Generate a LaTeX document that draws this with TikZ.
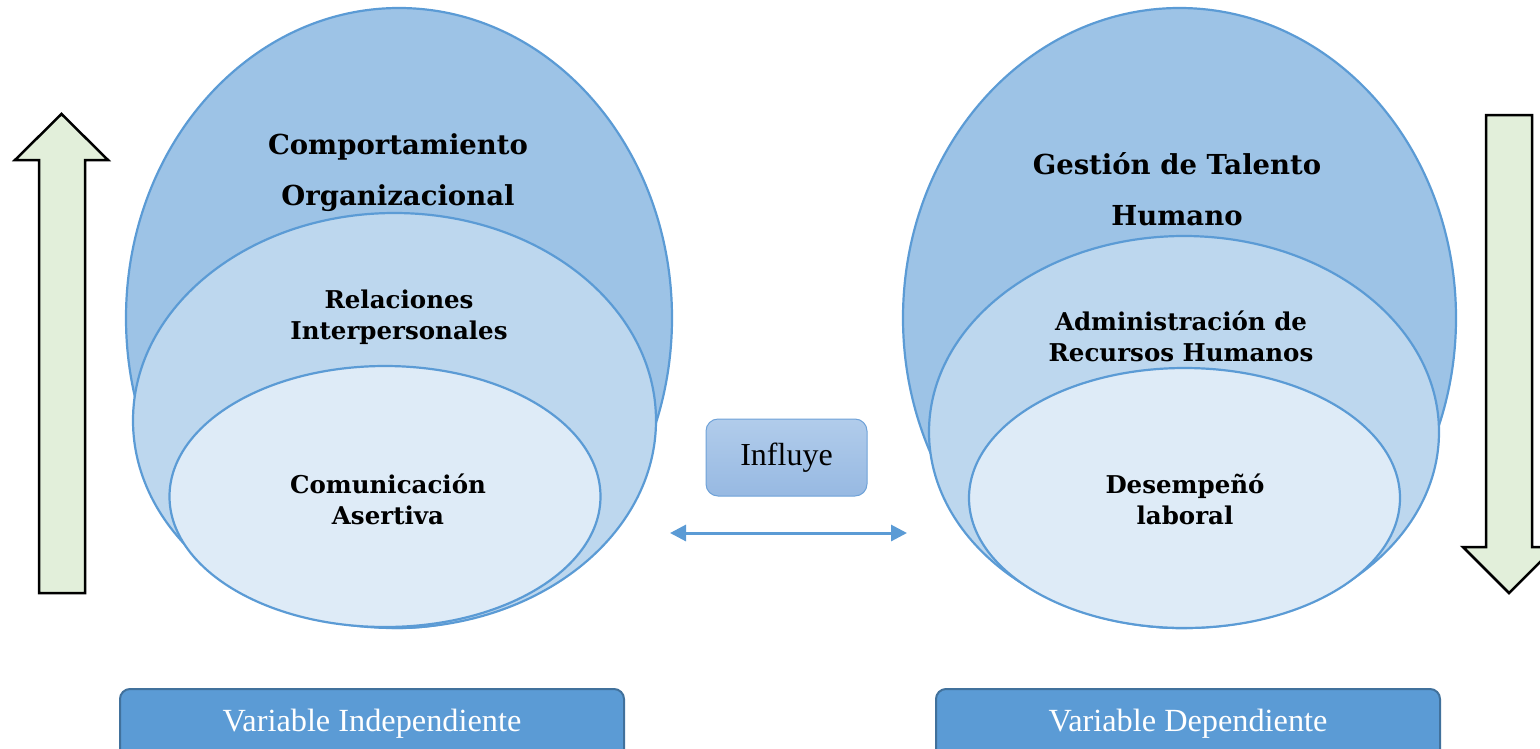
\documentclass[tikz,border=0pt]{standalone}
\usepackage{fontspec}
\setmainfont{Liberation Serif}
\newfontfamily\hfont{DejaVu Serif}
\usetikzlibrary{shapes.geometric,arrows.meta}
\definecolor{bigc}{HTML}{9DC3E6}
\definecolor{midc}{HTML}{BDD7EE}
\definecolor{innc}{HTML}{DEEBF7}
\definecolor{edgec}{HTML}{5B9BD5}
\definecolor{boxc}{HTML}{5B9BD5}
\definecolor{boxedge}{HTML}{41719C}
\definecolor{arrc}{HTML}{E2EFDA}
\definecolor{inftop}{HTML}{B1CCEB}
\definecolor{infbot}{HTML}{97B9E2}
\definecolor{infedge}{HTML}{6FA2D8}
\begin{document}
\begin{tikzpicture}[x=1pt,y=-1pt,
  oval/.style={ellipse, draw=edgec, line width=2.2pt, inner sep=0pt, outer sep=0pt},
  title/.style={font=\hfont\bfseries\fontsize{27.5}{51}\selectfont, align=center, inner sep=0pt},
  sub/.style={font=\hfont\bfseries\fontsize{24.5}{31}\selectfont, align=center, inner sep=0pt},
  varbox/.style={draw=boxedge, fill=boxc, line width=2pt, rounded corners=10pt,
    minimum width=504pt, minimum height=70pt, inner sep=0pt, text=white,
    font=\fontsize{32.3}{36}\selectfont},
  fatarrow/.style={draw=black, fill=arrc, line width=2.5pt, line join=miter},
  link/.style={draw=edgec, line width=3pt,
    {Triangle[width=16pt,length=16pt]}-{Triangle[width=16pt,length=16pt]}}
]
\useasboundingbox (0,0) rectangle (1540,748);

% left group
\node[oval, fill=bigc, minimum width=546pt, minimum height=620pt] (lbig) at (399,318) {};
\node[oval, fill=midc, minimum width=523pt, minimum height=415pt] (lmid) at (394.5,420.5) {};
\node[oval, fill=innc, minimum width=431pt, minimum height=261pt] (linn) at (385,496.5) {};
\node[title] (ltitle) at (398,173) {Comportamiento\\Organizacional};
\node[sub] (lsub) at (399,317) {Relaciones\\Interpersonales};
\node[sub] (linner) at (388,499) {Comunicación\\Asertiva};

% right group
\node[oval, fill=bigc, minimum width=553pt, minimum height=620pt] (rbig) at (1179.5,318) {};
\node[oval, fill=midc, minimum width=510pt, minimum height=392pt] (rmid) at (1184,432) {};
\node[oval, fill=innc, minimum width=431pt, minimum height=260pt] (rinn) at (1184.5,498) {};
\node[title] (rtitle) at (1177,189) {Gestión de Talento\\Humano};
\node[sub] (rsub) at (1181,336) {Administración de\\Recursos Humanos};
\node[sub] (rinner) at (1185,499) {Desempeñó\\laboral};

% influye
\node[draw=infedge, line width=1pt, rounded corners=12pt, top color=inftop, bottom color=infbot,
  minimum width=161pt, minimum height=77pt, inner sep=0pt,
  font=\fontsize{32}{36}\selectfont] (inf) at (786.5,457.5) {Influye};
\coordinate (la) at (670,533);
\coordinate (ra) at (907,533);
\draw[link] (la) -- (ra);

% bottom boxes
\node[varbox] (vi) at (372,724) {Variable Independiente};
\node[varbox] (vd) at (1188,724) {Variable Dependiente};

% fat arrows
\draw[fatarrow] (61.5,114) -- (108,160) -- (85,160) -- (85,593) -- (39,593) -- (39,160) -- (15,160) -- cycle;
\draw[fatarrow] (1486,115) -- (1532,115) -- (1532,547) -- (1555,547) -- (1509,593) -- (1463,547) -- (1486,547) -- cycle;
\end{tikzpicture}
\end{document}
